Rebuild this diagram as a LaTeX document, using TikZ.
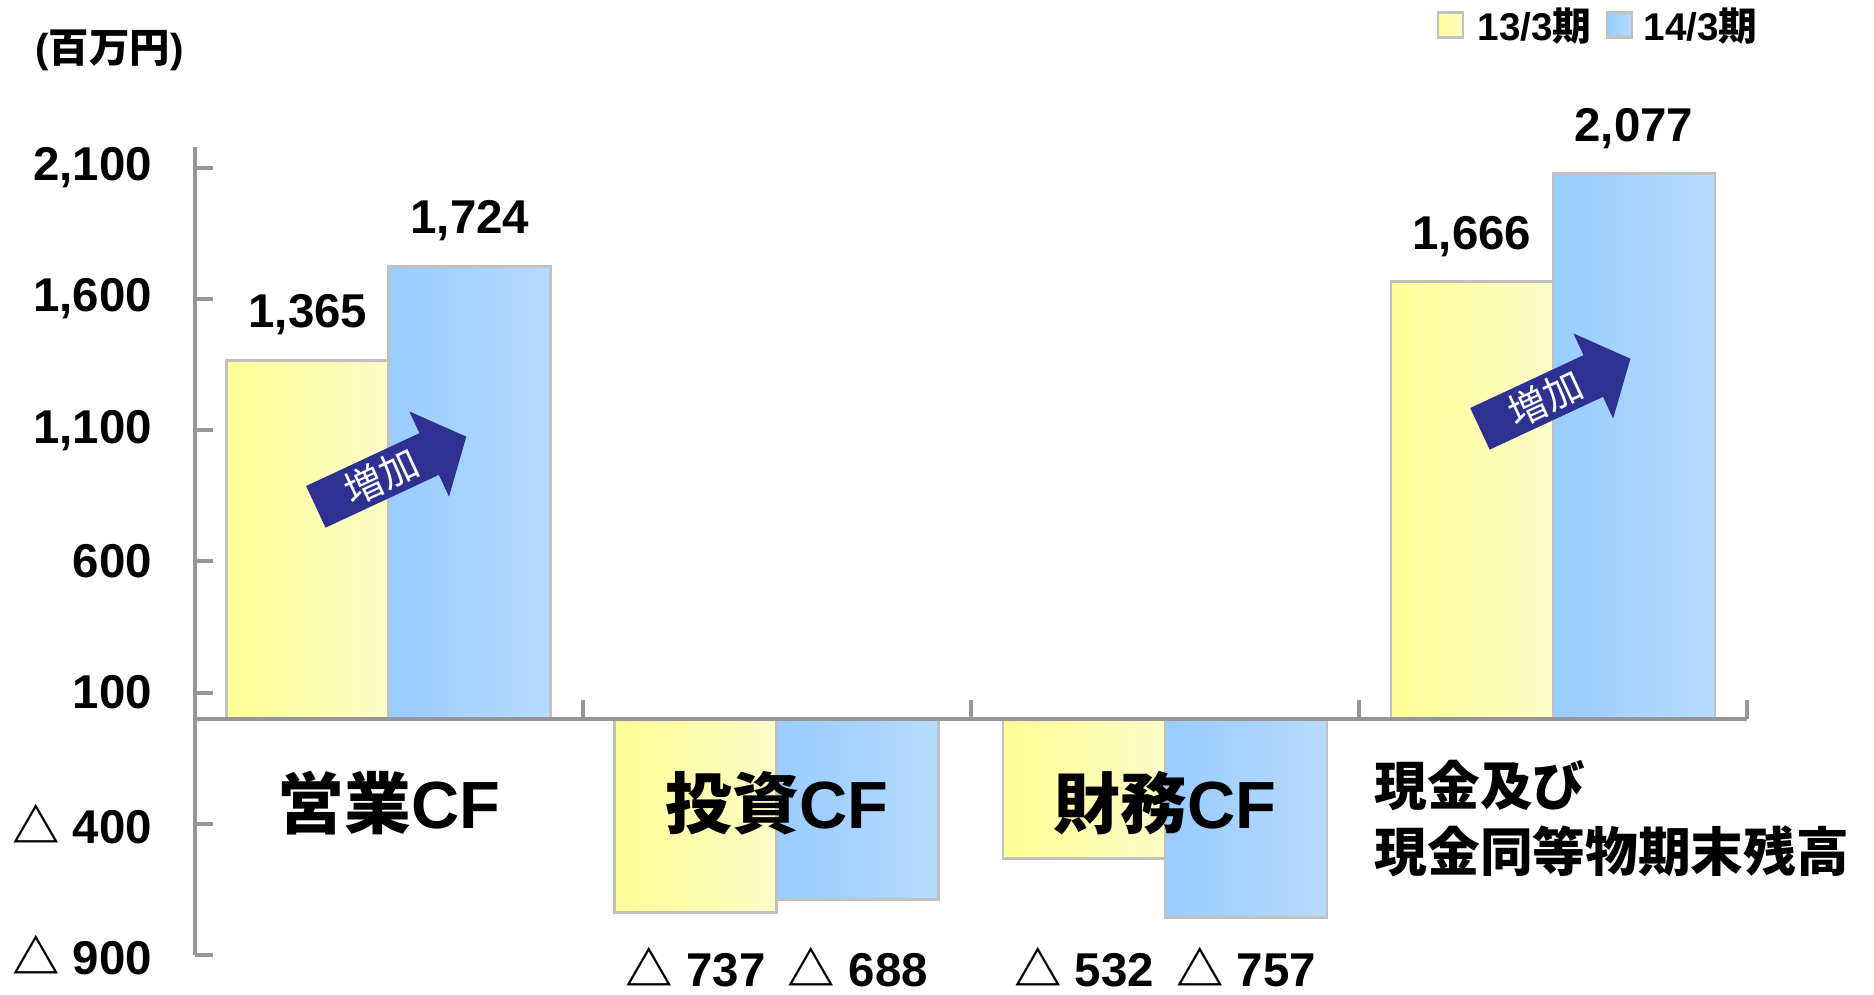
\documentclass[tikz,border=0pt]{standalone}
\usepackage{fontspec}
\setmainfont{Liberation Sans}
\newfontfamily\jpfont{Noto Sans CJK JP}
\usetikzlibrary{positioning}

\definecolor{axisgray}{RGB}{150,150,150}
\definecolor{edgegray}{RGB}{192,192,192}
\definecolor{yelL}{RGB}{255,255,150}
\definecolor{yelR}{RGB}{252,252,200}
\definecolor{bluL}{RGB}{153,204,255}
\definecolor{bluR}{RGB}{182,219,255}
\definecolor{arrowblue}{RGB}{46,49,146}

\newcommand{\sankaku}{{\jpfont △}}

\begin{document}
\begin{tikzpicture}[
  axis/.style={axisgray, line width=1.1pt},
  bar13/.style={draw=edgegray, line width=0.8pt, left color=yelL, right color=yelR},
  bar14/.style={draw=edgegray, line width=0.8pt, left color=bluL, right color=bluR},
  num/.style={font=\bfseries\fontsize{13.5}{16}\selectfont, inner sep=0pt},
  cat/.style={font=\bfseries\fontsize{19}{22}\selectfont, inner sep=0pt},
  leg/.style={font=\bfseries\fontsize{11}{13}\selectfont, inner sep=0pt, anchor=west},
  inc/.style={font=\jpfont\fontsize{11}{13}\selectfont, text=white, inner sep=0pt, rotate=25}
]

% frame
\useasboundingbox (-1.948,-2.754) rectangle (16.79,7.188);

% unit
\node[font=\bfseries\fontsize{11.5}{14}\selectfont, inner sep=0pt, anchor=west] (unit) at (-1.60,6.68) {({\jpfont 百万円})};

% legend
\draw[bar13] (12.43,6.81) rectangle (12.68,7.06);
\node[leg] (l13) at (12.82,6.93) {13/3{\jpfont 期}};
\draw[bar14] (14.12,6.81) rectangle (14.37,7.06);
\node[leg] (l14) at (14.48,6.93) {14/3{\jpfont 期}};

% bars and axes (y in million yen)
\begin{scope}[y=0.002628cm]
\foreach \i/\a/\b in {0/1365/1724, 1/-737/-688, 2/-532/-757, 3/1666/2077} {
  \draw[bar13] ({\i*3.88+0.32},0) rectangle ({\i*3.88+1.94},\a);
  \draw[bar14] ({\i*3.88+1.94},0) rectangle ({\i*3.88+3.56},\b);
  \coordinate (a\i) at ({\i*3.88+1.13},\a);
  \coordinate (b\i) at ({\i*3.88+2.75},\b);
}

\draw[axis] (0,-900) -- (0,2180);
\foreach \v/\t [count=\k] in {2100/{2,100}, 1600/{1,600}, 1100/{1,100}, 600/600, 100/100, -400/{\sankaku\ 400}, -900/{\sankaku\ 900}} {
  \draw[axis] (0,\v) -- (0.18,\v);
  \node[num, anchor=east] (tick\k) at (-0.42,\v) {\t};
}
\draw[axis] (0,0) -- (15.52,0);
\foreach \i in {1,...,4}
  \draw[axis] ({\i*3.88},0) -- ({\i*3.88},72);
\end{scope}

% values
\node[num, above=7pt of a0] (va0) {1,365};
\node[num, above=7pt of b0] (vb0) {1,724};
\node[num, above=7pt of a3] (va3) {1,666};
\node[num, above=7pt of b3] (vb3) {2,077};
\coordinate (low) at (0,-2.68);
\node[num, anchor=base] (va1) at (a1 |- low) {\sankaku\ 737};
\node[num, anchor=base] (vb1) at (b1 |- low) {\sankaku\ 688};
\node[num, anchor=base] (va2) at (a2 |- low) {\sankaku\ 532};
\node[num, anchor=base] (vb2) at (b2 |- low) {\sankaku\ 757};

% categories
\node[cat] (c0) at (1.94,-0.84) {{\jpfont 営業}CF};
\node[cat] (c1) at (5.82,-0.84) {{\jpfont 投資}CF};
\node[cat] (c2) at (9.70,-0.84) {{\jpfont 財務}CF};
\node[cat, font=\bfseries\jpfont\fontsize{15}{18.7}\selectfont, align=left, anchor=west] (c3) at (11.79,-1.0) {現金及び\\現金同等物期末残高};

% increase arrows
\foreach \x/\y [count=\n] in {1.21/2.12, 12.85/2.90} {
  \begin{scope}[shift={(\x,\y)}, rotate=25]
    \fill[arrowblue] (0,-0.23) -- (1.25,-0.23) -- (1.25,-0.47) -- (1.66,0) -- (1.25,0.47) -- (1.25,0.23) -- (0,0.23) -- cycle;
    \node[inc] (inc\n) at (0.72,0) {増加};
  \end{scope}
}

\end{tikzpicture}
\end{document}
